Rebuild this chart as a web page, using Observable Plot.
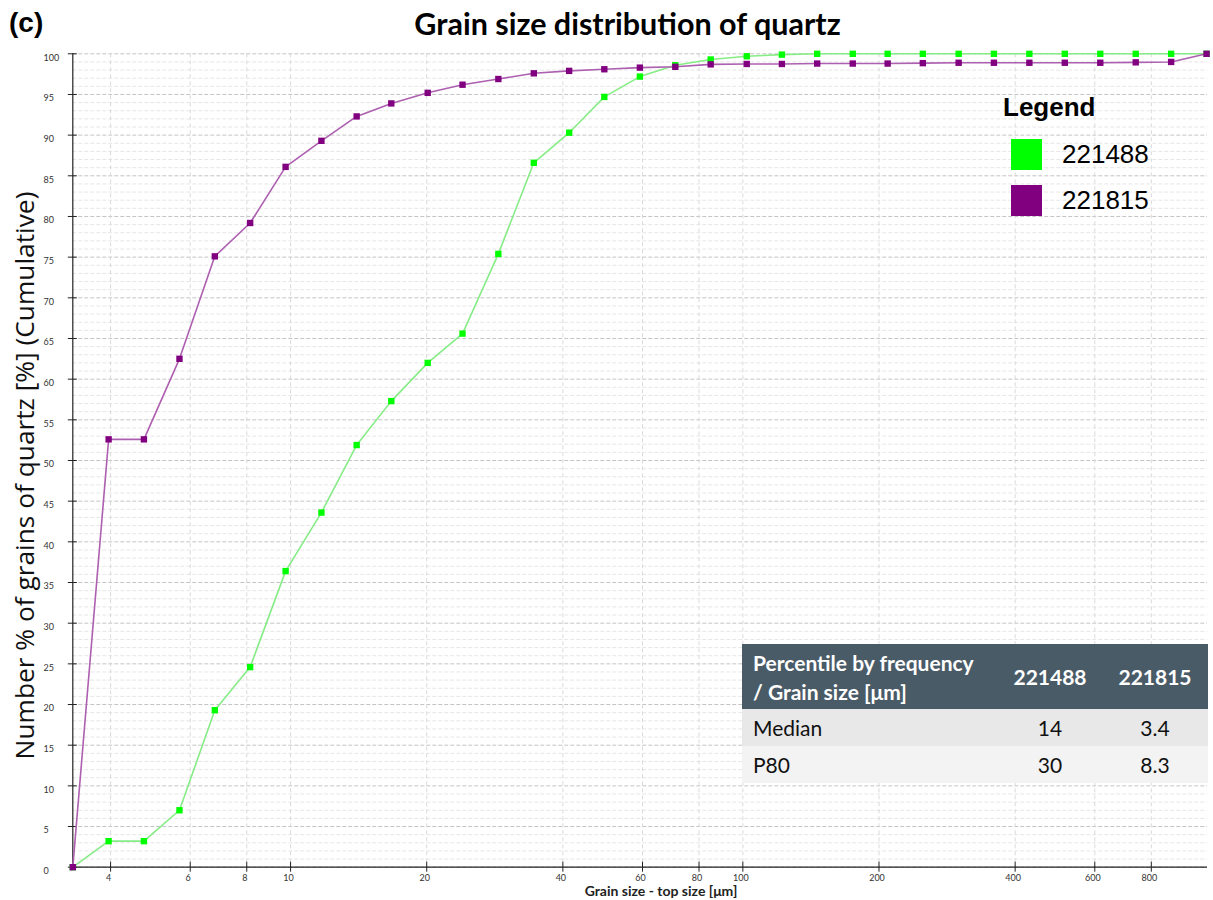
<!DOCTYPE html>
<html>
<head>
<meta charset="utf-8">
<script src="https://cdn.jsdelivr.net/npm/d3@7"></script>
<script src="https://cdn.jsdelivr.net/npm/@observablehq/plot@0.6"></script>
<style>
  html, body { margin: 0; padding: 0; background: #fff; }
  #wrap { position: relative; width: 1213px; height: 900px; overflow: hidden; font-family: Lato, "Open Sans", sans-serif; }
  #chart { position: absolute; left: 0; top: 0; }
  .abs { position: absolute; white-space: nowrap; }
  #tag { left: 9px; top: 7px; font: bold 28px "Liberation Sans", Arial, sans-serif; }
  #title { left: 0; width: 1255px; text-align: center; top: 5px; font: bold 30.5px Lato, sans-serif; }
  #xlab { left: 661px; top: 890px; transform: translate(-50%, -50%); font: bold 14px Lato, sans-serif; color: #222; }
  #legend { left: 1003px; top: 90px; font-family: "Liberation Sans", Arial, sans-serif; }
  #legend .head { font-weight: bold; font-size: 26px; line-height: 34px; }
  #legend .row { position: relative; height: 46px; }
  #legend .sw { position: absolute; left: 8px; width: 31px; height: 31px; }
  #legend .lb { position: absolute; left: 59px; font-size: 26px; line-height: 31px; }
  #tbl { left: 742px; top: 644px; border-collapse: collapse; font-family: Lato, sans-serif; }
  #tbl th { background: #4a5b68; color: #fff; font-weight: bold; font-size: 21px; line-height: 29px; height: 65px; padding: 0; }
  #tbl td { font-size: 21px; height: 37px; padding: 0; color: #111; }
</style>
</head>
<body>
<div id="wrap">
  <div id="chart"></div>
  <div id="tag" class="abs">(c)</div>
  <div id="title" class="abs">Grain size distribution of quartz</div>
  <div id="xlab" class="abs">Grain size - top size [μm]</div>
  <div id="legend" class="abs"></div>
  <table id="tbl" class="abs"></table>
</div>
<script>
// ---- data ----
const grainSizes = [3.3, 3.96, 4.74, 5.68, 6.8, 8.14, 9.75, 11.7, 14.0, 16.7, 20.1, 24.0, 28.8, 34.5, 41.3, 49.4, 59.2, 70.9, 84.9, 102, 122, 146, 175, 209, 250, 300, 359, 430, 515, 617, 739, 885, 1060];
const sample221488 = [0, 3.2, 3.2, 7.0, 19.3, 24.6, 36.4, 43.6, 51.9, 57.3, 62.0, 65.6, 75.4, 86.6, 90.3, 94.7, 97.2, 98.6, 99.3, 99.7, 99.9, 100, 100, 100, 100, 100, 100, 100, 100, 100, 100, 100, 100];
const sample221815 = [0, 52.6, 52.6, 62.5, 75.1, 79.2, 86.1, 89.3, 92.3, 93.9, 95.2, 96.2, 96.9, 97.6, 97.9, 98.1, 98.3, 98.4, 98.7, 98.75, 98.75, 98.8, 98.8, 98.8, 98.85, 98.9, 98.9, 98.9, 98.9, 98.9, 98.95, 99.0, 100];
const seriesNames = ["221488", "221815"];
const seriesColors = ["#00ff00", "#800080"];
const lineColors = ["#86ec86", "#ad5fb0"];
const xTicks = [4, 6, 8, 10, 20, 40, 60, 80, 100, 200, 400, 600, 800];
const yTicks = [0, 5, 10, 15, 20, 25, 30, 35, 40, 45, 50, 55, 60, 65, 70, 75, 80, 85, 90, 95, 100];
const yLabel = "Number % of grains of quartz [%] (Cumulative)";
const tableHeader = ["Percentile by frequency<br>/ Grain size [μm]", "221488", "221815"];
const tableRows = [["Median", "14", "3.4"], ["P80", "30", "8.3"]];

const rows = [];
grainSizes.forEach((g, i) => {
  rows.push({size: g, pct: sample221488[i], series: seriesNames[0]});
});
grainSizes.forEach((g, i) => {
  rows.push({size: g, pct: sample221815[i], series: seriesNames[1]});
});
const minorY = d3.range(0, 101).filter(v => v % 5 !== 0);
const xDomain = [3.3, 1065];

const chart = Plot.plot({
  width: 1213,
  height: 900,
  marginLeft: 72.3,
  marginRight: 6,
  marginTop: 53.3,
  marginBottom: 33.3,
  style: {fontFamily: "Lato, sans-serif", background: "transparent"},
  x: {type: "log", domain: xDomain, axis: null},
  y: {domain: [0, 100], axis: null},
  color: {domain: seriesNames, range: seriesColors},
  marks: [
    Plot.ruleY(minorY, {stroke: "#e6e6e6", strokeDasharray: "4,2", strokeWidth: 1}),
    Plot.ruleY(yTicks, {stroke: "#c4c4c4", strokeDasharray: "4,2", strokeWidth: 1}),
    Plot.ruleX(xTicks, {stroke: "#dadada", strokeDasharray: "4,3", strokeWidth: 1}),
    Plot.ruleX([xDomain[0]], {stroke: "#222", strokeWidth: 1.2}),
    Plot.ruleY([0], {stroke: "#222", strokeWidth: 1.2}),
    Plot.axisX({ticks: xTicks, tickSize: 10, dy: -5, tickFormat: () => "", stroke: "#222", label: null}),
    Plot.text(xTicks, {x: d => d, frameAnchor: "bottom", lineAnchor: "top", dy: 7, dx: -2, fontSize: 9, fill: "#333", text: d => String(d)}),
    Plot.axisY({ticks: yTicks, tickSize: 9, dx: 4.5, tickFormat: () => "", stroke: "#222", label: null}),
    Plot.text(yTicks, {y: d => d, frameAnchor: "left", textAnchor: "start", dx: -29.3, dy: 4, fontSize: 9, fill: "#333", text: d => String(d)}),
    Plot.text([yLabel], {frameAnchor: "left", textAnchor: "middle", rotate: -90, dx: -47.3, dy: 15, fontSize: 26.3, fontFamily: "'Open Sans', sans-serif", fill: "#111", text: d => d}),
    Plot.line(rows.filter(d => d.series === seriesNames[0]), {x: "size", y: "pct", stroke: lineColors[0], strokeWidth: 1.6}),
    Plot.dot(rows.filter(d => d.series === seriesNames[0]), {x: "size", y: "pct", fill: "series", symbol: "square", r: 3.6}),
    Plot.line(rows.filter(d => d.series === seriesNames[1]), {x: "size", y: "pct", stroke: lineColors[1], strokeWidth: 1.6}),
    Plot.dot(rows.filter(d => d.series === seriesNames[1]), {x: "size", y: "pct", fill: "series", symbol: "square", r: 3.6})
  ]
});
document.getElementById("chart").appendChild(chart);

// legend
const leg = document.getElementById("legend");
let html = '<div class="head">Legend</div><div style="height:15px"></div>';
seriesNames.forEach((n, i) => {
  html += `<div class="row"><div class="sw" style="background:${seriesColors[i]}"></div><div class="lb">${n}</div></div>`;
});
leg.innerHTML = html;

// table
const tbl = document.getElementById("tbl");
let t = `<tr><th style="width:245px;text-align:left;padding-left:11px">${tableHeader[0]}</th><th style="width:104px;text-align:center">${tableHeader[1]}</th><th style="width:106px;text-align:center">${tableHeader[2]}</th></tr>`;
tableRows.forEach((r, i) => {
  const bg = i === 0 ? "#e8e8e8" : "#f3f3f3";
  t += `<tr style="background:${bg}"><td style="padding-left:11px">${r[0]}</td><td style="text-align:center">${r[1]}</td><td style="text-align:center">${r[2]}</td></tr>`;
});
tbl.innerHTML = t;
</script>
</body>
</html>
